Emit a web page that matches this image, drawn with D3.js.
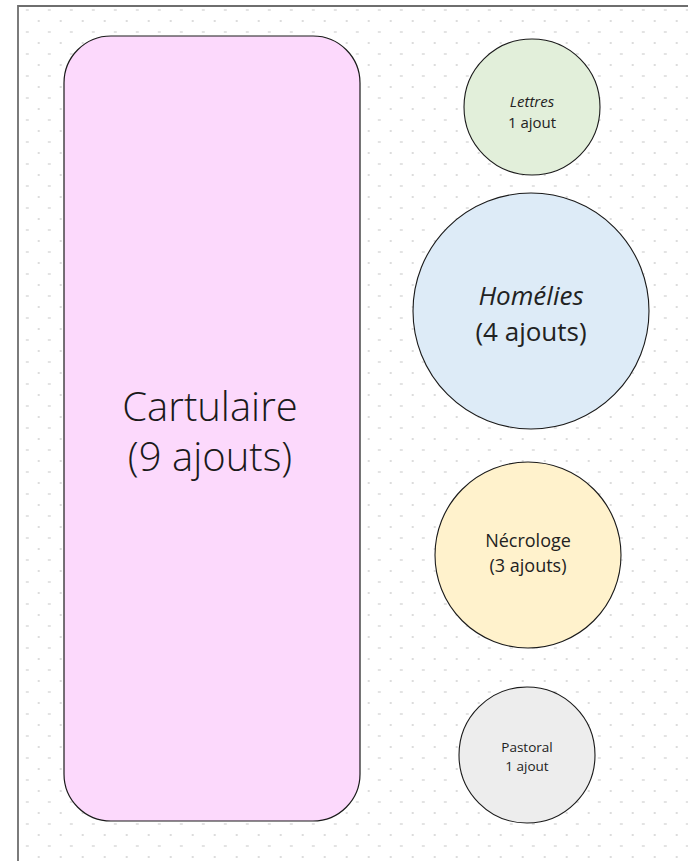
<!DOCTYPE html>
<html><head><meta charset="utf-8">
<script src="https://cdn.jsdelivr.net/npm/d3@7"></script>
<style>html,body{margin:0;padding:0;background:#fff;}svg{display:block;}</style>
</head><body>
<svg id="c" width="688" height="861"></svg>
<script>
// ---- data ----
const mainCategory = "Cartulaire";
const mainCount = 9;
const mainLabel = "(9 ajouts)";
const categories = ["Lettres", "Homélies", "Nécrologe", "Pastoral"];
const counts = [1, 4, 3, 1];
const countLabels = ["1 ajout", "(4 ajouts)", "(3 ajouts)", "1 ajout"];
const italicName = [true, true, false, false];
const fills = ["#e2efda", "#ddebf7", "#fff2cc", "#ededed"];

// ---- layout ----
const W = 688, H = 861;
const svg = d3.select("#c");
const font = "'Open Sans', 'Noto Sans', sans-serif";

// background dot grid
const g0 = svg.append("g");
const frameX = 18, frameY = 6;
const dashes = [], dots = [];
for (let y = 10; y < H; y += 22) for (let x = 27.3; x < W; x += 22) dashes.push([x, y]);
for (let y = 21; y < H; y += 22) for (let x = 38.7; x < W; x += 22) dots.push([x, y]);
g0.selectAll("rect.da").data(dashes).join("rect").attr("class","da")
  .attr("x", d => d[0] - 1.5).attr("y", d => d[1] - 0.75).attr("width", 3).attr("height", 1.5)
  .attr("fill", "#dadada");
g0.selectAll("rect.do").data(dots).join("rect").attr("class","do")
  .attr("x", d => d[0] - 1).attr("y", d => d[1] - 1).attr("width", 2).attr("height", 2)
  .attr("fill", "#dcdcdc");

// frame
svg.append("path").attr("d", `M${frameX},${H} L${frameX},${frameY} L${W},${frameY}`)
  .attr("fill", "none").attr("stroke", "#6e6e6e").attr("stroke-width", 1.8);

// main rounded rect: height from count
const hScale = d3.scaleLinear().domain([0, mainCount]).range([0, 785]);
const rectX = 64, rectW = 296, rectTop = 36;
const rh = hScale(mainCount);
svg.append("rect").attr("x", rectX).attr("y", rectTop).attr("width", rectW).attr("height", rh)
  .attr("rx", 47).attr("ry", 47).attr("fill", "#fcd9fc").attr("stroke", "#1a1a1a").attr("stroke-width", 1.2);
const mt = svg.append("text").attr("text-anchor", "middle").attr("font-family", font)
  .attr("font-weight", 300).attr("font-size", 40).attr("fill", "#1a1a1a");
mt.append("tspan").attr("x", rectX + rectW / 2 - 2).attr("y", rectTop + rh / 2 - 8).text(mainCategory);
mt.append("tspan").attr("x", rectX + rectW / 2 - 2).attr("y", rectTop + rh / 2 + 42).text(mainLabel);

// circles: radius from count
const rScale = d3.scaleLinear().domain([1, 3, 4]).range([68, 93, 118]);
const gaps = [39, 18, 33, 39];
const cx = [532, 531, 528, 527];
const fontSizes = [15, 26, 18, 13.5];
const line1 = [0, -6, -8, -3];
const line2 = [21, 30, 17, 16];
let yCursor = 0;
const nodes = categories.map((c, i) => {
  const r = rScale(counts[i]);
  yCursor += gaps[i];
  const cy = yCursor + r;
  yCursor += 2 * r;
  return { name: c, label: countLabels[i], r, cy, cx: cx[i], i };
});
const g = svg.selectAll("g.n").data(nodes).join("g").attr("class", "n");
g.append("circle").attr("cx", d => d.cx).attr("cy", d => d.cy).attr("r", d => d.r)
  .attr("fill", d => fills[d.i]).attr("stroke", "#1a1a1a").attr("stroke-width", 1.1);
const t = g.append("text").attr("text-anchor", "middle").attr("font-family", font)
  .attr("font-size", d => fontSizes[d.i]).attr("fill", "#222");
t.append("tspan").attr("x", d => d.cx).attr("y", d => d.cy + line1[d.i])
  .attr("font-style", d => italicName[d.i] ? "italic" : "normal").text(d => d.name);
t.append("tspan").attr("x", d => d.cx).attr("y", d => d.cy + line2[d.i])
  .text(d => d.label);
</script>
</body></html>
